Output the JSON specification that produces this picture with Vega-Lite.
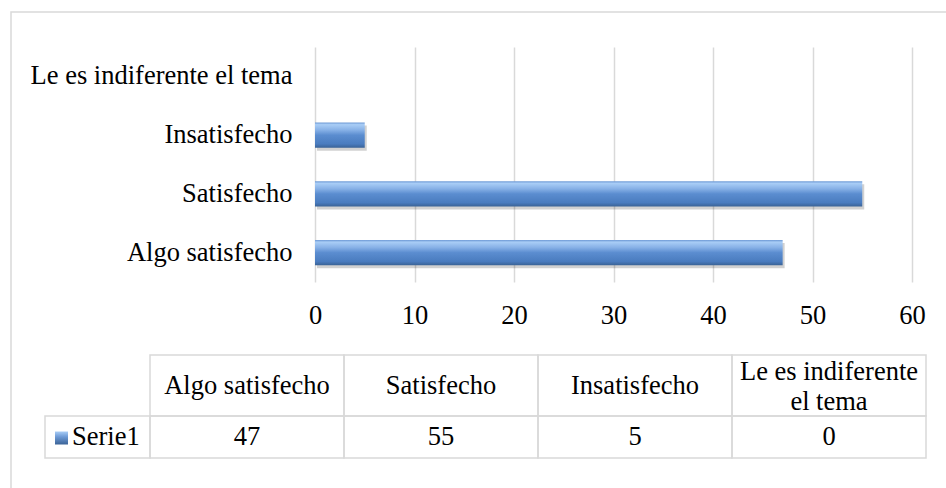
{
  "$schema": "https://vega.github.io/schema/vega-lite/v6.json",
  "width": 597,
  "height": 235,
  "autosize": {"type": "none"},
  "padding": {"left": 315, "top": 47, "right": 34, "bottom": 206},
  "background": "#ffffff",
  "datasets": {
    "respuestas": [
      {"categoria": "Algo satisfecho", "valor": 47},
      {"categoria": "Satisfecho", "valor": 55},
      {"categoria": "Insatisfecho", "valor": 5},
      {"categoria": "Le es indiferente\nel tema", "valor": 0}
    ]
  },
  "data": {"name": "respuestas"},
  "config": {
    "view": {"stroke": null},
    "font": "Liberation Serif",
    "text": {"font": "Liberation Serif", "fontSize": 26.5, "color": "#000000"},
    "axis": {
      "labelFont": "Liberation Serif",
      "labelFontSize": 26.5,
      "labelColor": "#000000",
      "ticks": false,
      "domain": false
    }
  },
  "layer": [
    {
      "data": {"values": [{"marco": "grafico"}]},
      "encoding": {
        "x": {"field": "marco", "type": "nominal", "scale": {"range": [-304, 645], "paddingInner": 0, "paddingOuter": 0}, "axis": null},
        "y": {"field": "marco", "type": "nominal", "scale": {"range": [-35, 453], "paddingInner": 0, "paddingOuter": 0}, "axis": null}
      },
      "mark": {"type": "rect", "fill": "transparent", "stroke": "#d9d9d9", "strokeWidth": 1.5}
    },
    {
      "encoding": {
        "y": {
          "field": "categoria",
          "type": "nominal",
          "sort": ["Le es indiferente\nel tema", "Insatisfecho", "Satisfecho", "Algo satisfecho"],
          "scale": {"paddingInner": 0.574, "paddingOuter": 0.287},
          "axis": {
            "title": null,
            "labelPadding": 23,
            "labelLimit": 400,
            "grid": false,
            "labelExpr": "replace(datum.label, '\\n', ' ')"
          }
        },
        "x": {
          "field": "valor",
          "type": "quantitative",
          "scale": {"domain": [0, 60], "nice": false},
          "axis": {
            "title": null,
            "values": [0, 10, 20, 30, 40, 50, 60],
            "labelPadding": 20,
            "labelFlush": false,
            "grid": true,
            "gridColor": "#d9d9d9",
            "gridWidth": 1.5
          }
        }
      },
      "layer": [
        {"mark": {"type": "bar", "color": "#000000", "opacity": 0.18, "xOffset": 2, "yOffset": 3}},
        {
          "mark": {
            "type": "bar",
            "color": {
              "gradient": "linear",
              "x1": 0, "y1": 0, "x2": 0, "y2": 1,
              "stops": [
                {"offset": 0, "color": "#6f9bd6"},
                {"offset": 0.08, "color": "#a9cdf6"},
                {"offset": 0.3, "color": "#86b0e6"},
                {"offset": 0.5, "color": "#5b8dd0"},
                {"offset": 0.85, "color": "#4a7cbf"},
                {"offset": 1, "color": "#3a6397"}
              ]
            }
          }
        }
      ]
    },
    {
      "encoding": {
        "x": {
          "field": "categoria",
          "type": "nominal",
          "sort": ["Algo satisfecho", "Satisfecho", "Insatisfecho", "Le es indiferente\nel tema"],
          "scale": {"range": [-165, 611], "paddingInner": 0, "paddingOuter": 0},
          "axis": null
        },
        "y": {
          "datum": "encabezado",
          "type": "nominal",
          "scale": {"range": [308, 369], "paddingInner": 0, "paddingOuter": 0},
          "axis": null
        }
      },
      "layer": [
        {"mark": {"type": "rect", "fill": "transparent", "stroke": "#d9d9d9", "strokeWidth": 1.5}},
        {
          "transform": [{"filter": "indexof(datum.categoria, '\\n') < 0"}],
          "mark": {"type": "text"},
          "encoding": {"text": {"field": "categoria"}}
        },
        {
          "transform": [{"filter": "indexof(datum.categoria, '\\n') >= 0"}],
          "mark": {"type": "text", "lineBreak": "\n", "lineHeight": 30, "dy": -14},
          "encoding": {"text": {"field": "categoria"}}
        }
      ]
    },
    {
      "encoding": {
        "x": {
          "field": "categoria",
          "type": "nominal",
          "sort": ["Algo satisfecho", "Satisfecho", "Insatisfecho", "Le es indiferente\nel tema"],
          "scale": {"range": [-165, 611], "paddingInner": 0, "paddingOuter": 0},
          "axis": null
        },
        "y": {
          "datum": "Serie1",
          "type": "nominal",
          "scale": {"range": [369, 411], "paddingInner": 0, "paddingOuter": 0},
          "axis": null
        }
      },
      "layer": [
        {"mark": {"type": "rect", "fill": "transparent", "stroke": "#d9d9d9", "strokeWidth": 1.5}},
        {"mark": {"type": "text"}, "encoding": {"text": {"field": "valor"}}}
      ]
    },
    {
      "data": {"values": [{"serie": "Serie1"}]},
      "encoding": {
        "x": {
          "field": "serie",
          "type": "nominal",
          "scale": {"range": [-270, -165], "paddingInner": 0, "paddingOuter": 0},
          "axis": null
        },
        "y": {
          "field": "serie",
          "type": "nominal",
          "scale": {"range": [369, 411], "paddingInner": 0, "paddingOuter": 0},
          "axis": null
        }
      },
      "layer": [
        {"mark": {"type": "rect", "fill": "transparent", "stroke": "#d9d9d9", "strokeWidth": 1.5}},
        {
          "mark": {
            "type": "square",
            "size": 169,
            "opacity": 1,
            "xOffset": -36,
            "yOffset": 1,
            "color": {
              "gradient": "linear",
              "x1": 0, "y1": 0, "x2": 0, "y2": 1,
              "stops": [
                {"offset": 0, "color": "#a9cdf6"},
                {"offset": 0.4, "color": "#6f9bd6"},
                {"offset": 1, "color": "#3a6397"}
              ]
            }
          }
        },
        {"mark": {"type": "text", "align": "left", "dx": -25.5}, "encoding": {"text": {"field": "serie"}}}
      ]
    }
  ],
  "resolve": {"scale": {"x": "independent", "y": "independent"}}
}
